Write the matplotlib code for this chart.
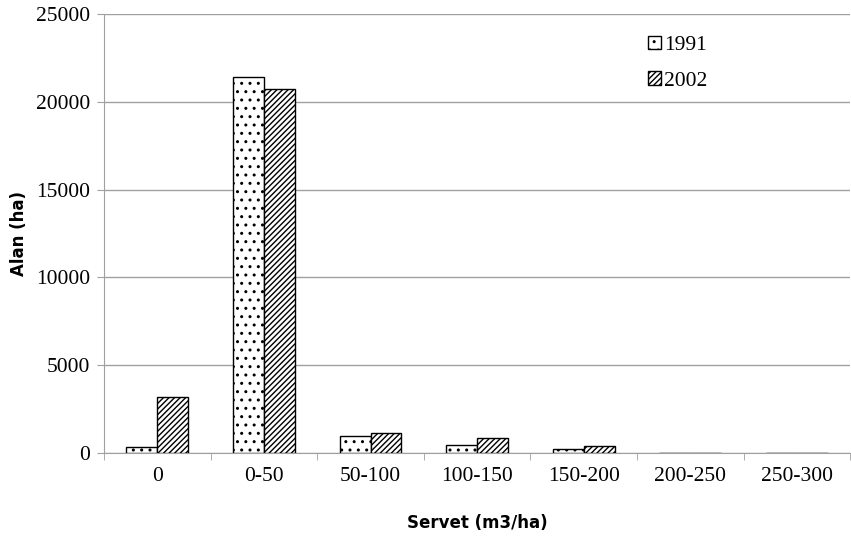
import numpy as np
import matplotlib
matplotlib.use("Agg")
import matplotlib.pyplot as plt

categories = ["0", "0-50", "50-100", "100-150", "150-200", "200-250", "250-300"]
values_1991 = [320, 21400, 950, 450, 200, 20, 10]
values_2002 = [3200, 20700, 1120, 850, 400, 25, 15]

plt.rcParams["hatch.linewidth"] = 1.0

fig = plt.figure(figsize=(8.51, 5.36), dpi=100)
ax = fig.add_axes([0.1222, 0.1549, 0.877, 0.819])

x = np.arange(len(categories))
w = 0.29
ax.bar(x - w / 2, values_1991, w, color="white", edgecolor="black", hatch="..", linewidth=1.0, label="1991", zorder=3)
ax.bar(x + w / 2, values_2002, w, color="white", edgecolor="black", hatch="//////", linewidth=1.0, label="2002", zorder=3)

ax.set_xlim(-0.5, len(categories) - 0.5)
ax.set_ylim(0, 25000)
ax.set_yticks(range(0, 25001, 5000))
ax.yaxis.grid(True, color="#a0a0a0", linewidth=1.0, zorder=0)
ax.set_axisbelow(True)

ax.set_xticks(x)
ax.set_xticklabels(categories, fontfamily="Liberation Serif", fontsize=15.5)
ax.set_xticks(np.arange(-0.5, len(categories), 1.0), minor=True)
ax.tick_params(axis="x", which="major", length=0, pad=10)
ax.tick_params(axis="x", which="minor", length=5, color="#a0a0a0", direction="out")
ax.tick_params(axis="y", length=5, color="#a0a0a0", pad=5)
for lab in ax.get_yticklabels():
    lab.set_fontfamily("Liberation Serif")
    lab.set_fontsize(15.5)

for s in ["top", "right"]:
    ax.spines[s].set_visible(False)
for s in ["left", "bottom"]:
    ax.spines[s].set_color("#a0a0a0")

ax.set_xlabel("Servet (m3/ha)", fontweight="bold", fontsize=12, labelpad=20)
ax.set_ylabel("Alan (ha)", fontweight="bold", fontsize=12, labelpad=6)

leg = ax.legend(loc="upper left", bbox_to_anchor=(0.703, 0.995), frameon=False,
                prop={"family": "Liberation Serif", "size": 15.5},
                handlelength=0.6, handleheight=0.6, handletextpad=0.15, labelspacing=0.75)

fig.savefig("out.png", dpi=100)
